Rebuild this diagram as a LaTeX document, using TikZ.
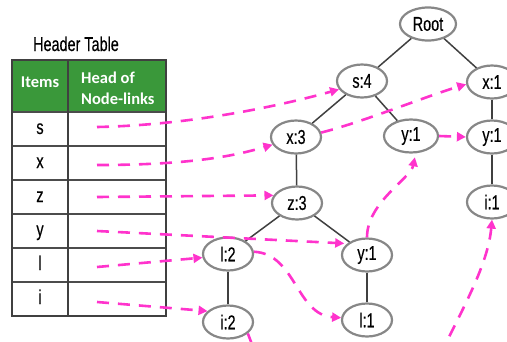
\documentclass[tikz,border=0pt]{standalone}
\usepackage{fontspec}
\setmainfont{Liberation Sans}
\newfontfamily\narrowfont[FakeStretch=0.72,FakeBold=0.4]{Liberation Sans}
\newfontfamily\headfont{Carlito}
\usetikzlibrary{arrows.meta,shapes.geometric}
\definecolor{linkpink}{RGB}{255,51,204}
\definecolor{headgreen}{RGB}{58,152,58}
\definecolor{edgegray}{RGB}{64,64,64}
\definecolor{rimgray}{RGB}{135,135,135}

\begin{document}
\begin{tikzpicture}[x=1pt,y=-1pt,
  fpnode/.style={ellipse, draw=rimgray, line width=2.2pt, fill=white,
    minimum width=50pt, minimum height=33pt, inner sep=0pt,
    font=\narrowfont\fontsize{20}{20}\selectfont},
  treeedge/.style={draw=edgegray, line width=1.5pt},
  linkline/.style={draw=linkpink, line width=2.6pt, dash pattern=on 12pt off 9pt},
  nodelink/.style={linkline, -{Triangle[length=9pt,width=9pt]}},
  tableframe/.style={draw=black!75, line width=1.4pt},
  tablerule/.style={draw=black!70, line width=1.2pt},
  itemtext/.style={anchor=base, inner sep=0pt, font=\narrowfont\fontsize{20}{20}\selectfont},
  headtext/.style={text=white, inner sep=0pt, font=\headfont\bfseries\fontsize{16.5}{21}\selectfont}]
\useasboundingbox (0,0) rectangle (507,341);

% ---- header table ----
\node[itemtext] (title) at (76,51) {Header Table};
\fill[headgreen] (12,60) rectangle (166,112);
\foreach \yy in {146,180,214,248,282}
  \draw[tablerule] (12,\yy) -- (166,\yy);
\draw[tablerule] (12,112) -- (166,112);
\draw[tableframe] (68,60) -- (68,316);
\draw[tableframe] (12,60) rectangle (166,316);
\node[headtext] (hitems) at (40,82) {Items};
\node[headtext, align=left, anchor=west] (hlinks) at (81,88) {Head of\\Node-links};

\node[itemtext] (is) at (40,134) {s};
\node[itemtext] (ix) at (40,168) {x};
\node[itemtext] (iz) at (40,202) {z};
\node[itemtext] (iy) at (40,236) {y};
\node[itemtext] (il) at (40,270) {l};
\node[itemtext] (ii) at (40,304) {i};

\coordinate (ls) at (97,127);
\coordinate (lx) at (97,165);
\coordinate (lz) at (97,197);
\coordinate (ly) at (97,231);
\coordinate (ll) at (97,267);
\coordinate (li) at (97,302);

% ---- FP-tree ----
\node[fpnode, minimum width=56pt] (root) at (428,24) {Root};
\node[fpnode] (s4) at (362,81) {s:4};
\node[fpnode] (x1) at (492,82) {x:1};
\node[fpnode] (x3) at (296,137) {x:3};
\node[fpnode, minimum width=54pt] (ymid) at (411,136) {y:1};
\node[fpnode] (yR) at (492,137) {y:1};
\node[fpnode] (z3) at (297,203) {z:3};
\node[fpnode] (i1) at (492,202) {i:1};
\node[fpnode] (l2) at (228,254) {l:2};
\node[fpnode] (ylow) at (367,255) {y:1};
\node[fpnode] (i2) at (228,322) {i:2};
\node[fpnode] (l1) at (367,320) {l:1};

\draw[treeedge] (root) -- (s4);
\draw[treeedge] (root) -- (x1);
\draw[treeedge] (s4) -- (x3);
\draw[treeedge] (s4) -- (ymid);
\draw[treeedge] (x3) -- (z3);
\draw[treeedge] (z3) -- (l2);
\draw[treeedge] (z3) -- (ylow);
\draw[treeedge] (l2) -- (i2);
\draw[treeedge] (ylow) -- (l1);
\draw[treeedge] (x1) -- (yR);
\draw[treeedge] (yR) -- (i1);

% ---- node-links ----
\coordinate (iout) at (258,360);
\coordinate (iin) at (440,355);

\draw[nodelink] (ls) .. controls +(100,-2) and +(-50,14) .. (s4.200);
\draw[nodelink] (lx) .. controls +(90,0) and +(-40,12) .. (x3.198);
\draw[nodelink] (lz) -- (z3.162);
\draw[nodelink, shorten >=3pt] (ly) -- (ylow.150);
\draw[nodelink] (ll) -- (l2.188);
\draw[nodelink] (li) -- (i2.152);
\draw[nodelink] (x3.10) .. controls +(40,-10) and +(-40,12) .. (x1.185);
\draw[nodelink] (ymid.east) -- (yR.west);
\draw[nodelink, shorten >=4pt] (ylow.north) .. controls +(0,-35) and +(-5,25) .. (ymid.285);
\draw[nodelink] (l2.5) .. controls +(42,2) and +(-45,-3) .. (l1.175);
\draw[linkline] (i2.330) -- (iout);
\draw[nodelink] (iin) .. controls +(22,-45) and +(-4,45) .. (i1.south);
\end{tikzpicture}
\end{document}
